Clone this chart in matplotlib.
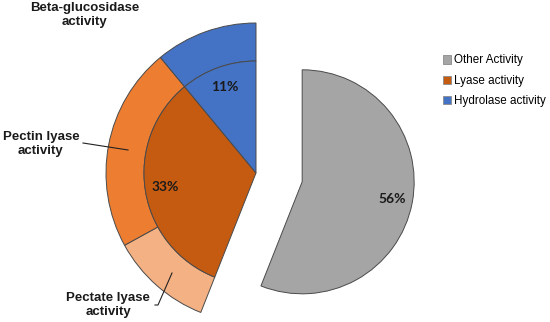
import matplotlib
matplotlib.use("Agg")
import matplotlib.pyplot as plt

# inner pie
inner_labels = ["Other Activity", "Lyase activity", "Hydrolase activity"]
inner_vals = [56, 33, 11]
inner_colors = ["#A5A5A5", "#C55A11", "#4472C4"]

# outer ring (only lyase + hydrolase split up)
outer_labels = ["", "Pectate lyase\nactivity", "Pectin lyase\nactivity", "Beta-glucosidase\nactivity"]
outer_vals = [56, 11, 22, 11]
outer_colors = ["none", "#F4B183", "#ED7D31", "#4472C4"]

fig = plt.figure(figsize=(5.5, 3.22), dpi=100)
ax = fig.add_axes([0, 0, 1, 1])
ax.set_xlim(0, 550)
ax.set_ylim(0, 322)
ax.set_aspect("equal")
ax.axis("off")

cx, cy = 256, 149
r_in, r_out = 112, 150
edge = dict(edgecolor="#4a4a4a", linewidth=0.7)

# outer ring
ow, _ = ax.pie(outer_vals, colors=outer_colors, center=(cx, cy), radius=r_out,
               startangle=90, counterclock=False,
               wedgeprops=dict(width=r_out - r_in, **edge))
ow[0].set_visible(False)

# inner pie
iw, _, autotexts = ax.pie(inner_vals, colors=inner_colors, center=(cx, cy), radius=r_in,
                          startangle=90, counterclock=False, explode=[47, 0, 0],
                          autopct="%d%%", pctdistance=0.82, wedgeprops=edge,
                          textprops=dict(fontsize=10, fontweight="bold",
                                         family="Lato", color="#1a1a1a"))
ax.set_xlim(0, 550)
ax.set_ylim(0, 322)

lab = dict(fontsize=9.5, fontweight="bold", family="Liberation Sans",
           ha="center", va="center", linespacing=1.2, color="#1a1a1a")
ax.text(85, 322 - 15, outer_labels[3], **lab)
ax.text(41, 322 - 144, outer_labels[2], **lab)
ax.text(108, 322 - 305, outer_labels[1], **lab)

# leader lines
ax.plot([83, 128], [322 - 143, 322 - 150], color="#222222", lw=0.8)
ax.plot([155, 158, 172], [322 - 305, 322 - 305, 322 - 273], color="#222222", lw=0.8)

leg = fig.legend(iw, inner_labels, loc="upper left", bbox_to_anchor=(432 / 550, 1 - 44 / 322),
                 frameon=False, handlelength=0.7, handleheight=0.7, handletextpad=0.25,
                 labelspacing=0.72, prop=dict(family="Liberation Sans", size=8.4))
for h in leg.legend_handles:
    h.set_edgecolor("#8a8a8a")
    h.set_linewidth(0.6)

fig.savefig("out.png", dpi=100)
